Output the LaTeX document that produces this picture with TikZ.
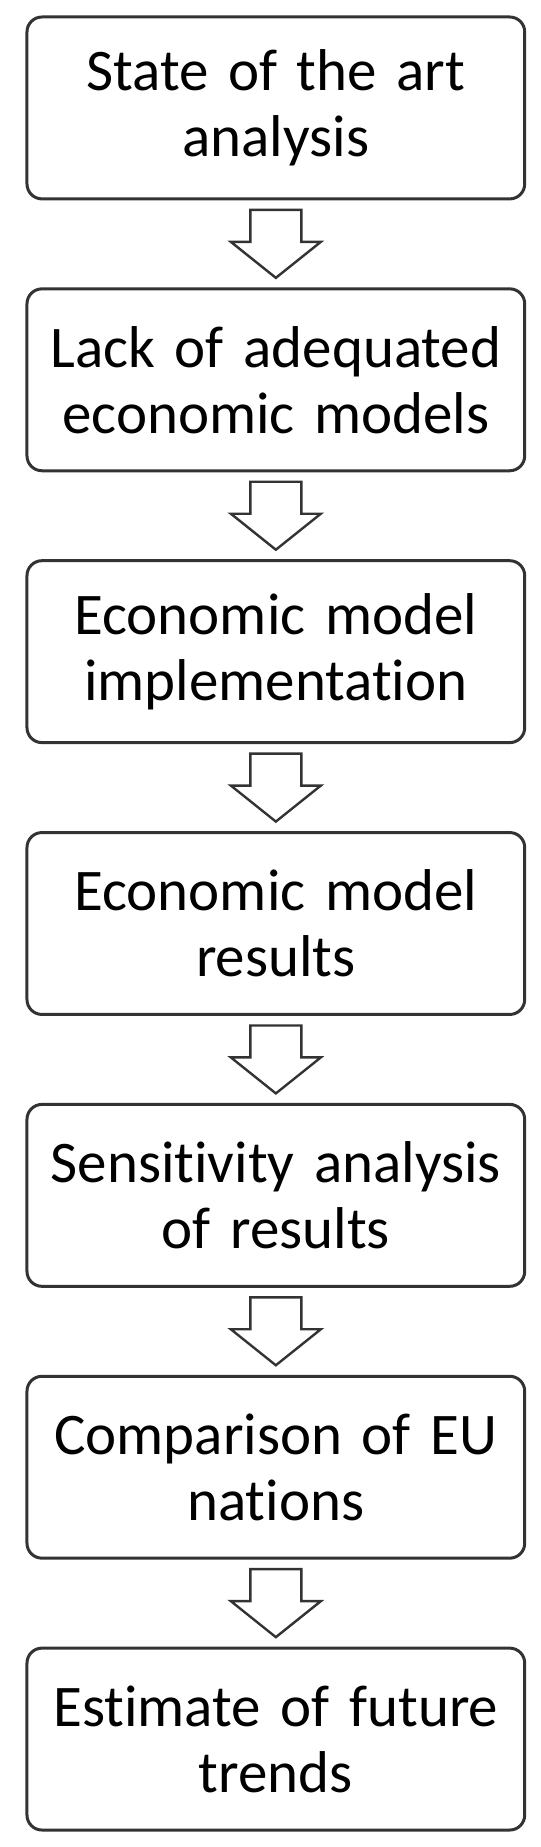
\documentclass[tikz,border=0pt]{standalone}
\usepackage{fontspec}
\setmainfont{Carlito}[Ligatures=NoCommon, WordSpace=0.8]
\usepackage{xcolor}
\usetikzlibrary{positioning,calc}
\definecolor{edge}{HTML}{333333}

\begin{document}
\begin{tikzpicture}[
  x=1pt, y=1pt,
  font=\fontsize{59}{66}\selectfont,
  stage/.style={draw=edge, line width=3pt, rounded corners=15pt, outer sep=0pt,
                minimum width=498pt, minimum height=182pt, inner sep=0pt,
                text width=494pt, align=center},
  flow/.style={draw=edge, line width=2.4pt, fill=white},
]
% ---------- stages ----------
\node[stage] (s1) at (0,0) {State of the art\\analysis};
\node[stage, below=90pt of s1] (s2) {Lack of adequated\\economic models};
\node[stage, below=90pt of s2] (s3) {Economic model\\implementation};
\node[stage, below=90pt of s3] (s4) {Economic model\\results};
\node[stage, below=90pt of s4] (s5) {Sensitivity analysis\\of results};
\node[stage, below=90pt of s5] (s6) {Comparison of EU\\nations};
\node[stage, below=90pt of s6] (s7) {Estimate of future\\trends};
% ---------- block arrows ----------
\foreach \a/\b in {s1/s2,s2/s3,s3/s4,s4/s5,s5/s6,s6/s7}
  \draw[flow] ($(\a.south)+(-25.5,-11)$) -- ($(\a.south)+(25.5,-11)$)
    -- ($(\b.north)+(25.5,47)$) -- ($(\b.north)+(45,47)$)
    -- ($(\b.north)+(0,11)$)
    -- ($(\b.north)+(-45,47)$) -- ($(\b.north)+(-25.5,47)$) -- cycle;
\useasboundingbox ($(s1.north)+(-276,17)$) rectangle ($(s7.south)+(265,-17)$);
\end{tikzpicture}
\end{document}
